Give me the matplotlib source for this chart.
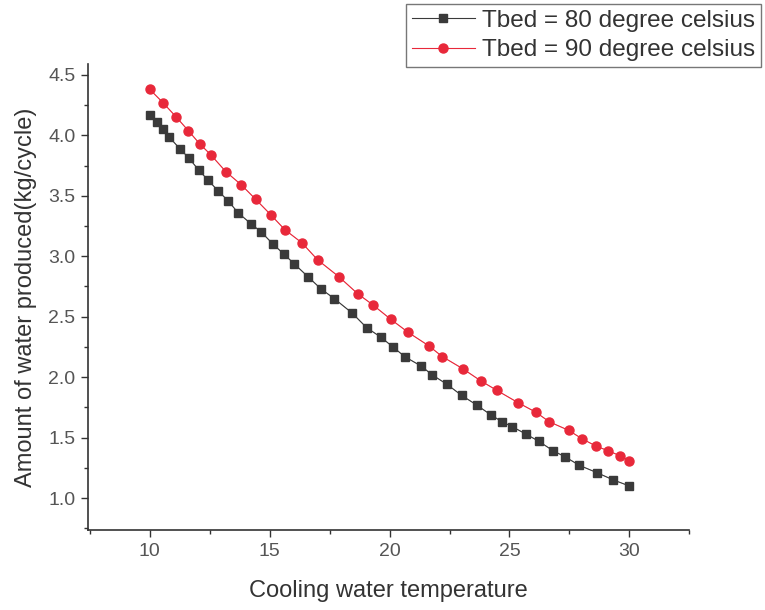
import matplotlib.pyplot as plt
from matplotlib.ticker import MultipleLocator

plt.rcParams['font.family'] = ['Liberation Sans', 'DejaVu Sans']

# Tbed = 80 degree celsius
x80 = [10.0, 10.28, 10.53, 10.79, 11.25, 11.64, 12.05, 12.43, 12.85, 13.26,
       13.68, 14.21, 14.65, 15.14, 15.58, 16.01, 16.60, 17.14, 17.69, 18.44,
       19.04, 19.64, 20.14, 20.63, 21.33, 21.77, 22.40, 23.00, 23.63, 24.21,
       24.70, 25.12, 25.68, 26.22, 26.83, 27.33, 27.92, 28.65, 29.33, 30.0]
y80 = [4.17, 4.11, 4.05, 3.99, 3.89, 3.81, 3.71, 3.63, 3.54, 3.46,
       3.36, 3.27, 3.20, 3.10, 3.02, 2.94, 2.83, 2.73, 2.65, 2.53,
       2.41, 2.33, 2.25, 2.17, 2.09, 2.02, 1.94, 1.85, 1.77, 1.69,
       1.63, 1.59, 1.53, 1.47, 1.39, 1.34, 1.27, 1.21, 1.15, 1.10]

# Tbed = 90 degree celsius
x90 = [10.0, 10.55, 11.11, 11.60, 12.08, 12.54, 13.17, 13.82, 14.42, 15.06,
       15.63, 16.35, 17.00, 17.89, 18.67, 19.29, 20.04, 20.78, 21.63, 22.20,
       23.05, 23.80, 24.48, 25.35, 26.10, 26.67, 27.47, 28.03, 28.61, 29.13,
       29.61, 30.0]
y90 = [4.38, 4.27, 4.15, 4.04, 3.93, 3.84, 3.70, 3.59, 3.47, 3.34,
       3.22, 3.11, 2.97, 2.83, 2.69, 2.60, 2.48, 2.37, 2.26, 2.17,
       2.07, 1.97, 1.89, 1.79, 1.71, 1.63, 1.56, 1.49, 1.43, 1.39,
       1.35, 1.31]

fig = plt.figure(figsize=(7.65, 6.1), dpi=100)
ax = fig.add_axes([0.115, 0.131, 0.786, 0.764])

# faint connecting lines, then the markers on top
ax.plot(x80, y80, '-', color='#3a3a3a', lw=0.5, alpha=0.45)
ax.plot(x90, y90, '-', color='#e8283a', lw=0.5, alpha=0.45)
ax.plot(x80, y80, '-s', color='#3a3a3a', lw=0, ms=6, mec='#3a3a3a',
        label='Tbed = 80 degree celsius')
ax.plot(x90, y90, '-o', color='#e8283a', lw=0, ms=6.5, mec='#e8283a',
        label='Tbed = 90 degree celsius')

ax.set_xlim(7.42, 32.5)
ax.set_ylim(0.735, 4.59)
ax.xaxis.set_major_locator(MultipleLocator(5))
ax.xaxis.set_minor_locator(MultipleLocator(2.5))
ax.yaxis.set_major_locator(MultipleLocator(0.5))
ax.yaxis.set_minor_locator(MultipleLocator(0.25))

ax.spines['top'].set_visible(False)
ax.spines['right'].set_visible(False)
for s in ('left', 'bottom'):
    ax.spines[s].set_color('#333333')
    ax.spines[s].set_linewidth(1.2)

ax.tick_params(which='major', length=5, width=1, color='#333333',
               labelsize=14, labelcolor='#555555', pad=4)
ax.tick_params(which='minor', length=3, width=1, color='#333333')

ax.set_xlabel('Cooling water temperature', fontsize=17, color='#333333', labelpad=15)
ax.set_ylabel('Amount of water produced(kg/cycle)', fontsize=17, color='#333333', labelpad=8)

handles, labels = ax.get_legend_handles_labels()
for h in handles:
    h.set_linewidth(0.8)
leg = ax.legend(handles, labels, loc='upper right', bbox_to_anchor=(1.0, 1.0),
                bbox_transform=fig.transFigure, fontsize=17.5,
                frameon=True, fancybox=False, edgecolor='#555555',
                handlelength=2.6, handletextpad=0.3, borderpad=0.25,
                labelspacing=0.3, borderaxespad=0.15)
leg.get_frame().set_linewidth(1.0)
for t in leg.get_texts():
    t.set_color('#333333')

fig.savefig('out.png', dpi=100)
